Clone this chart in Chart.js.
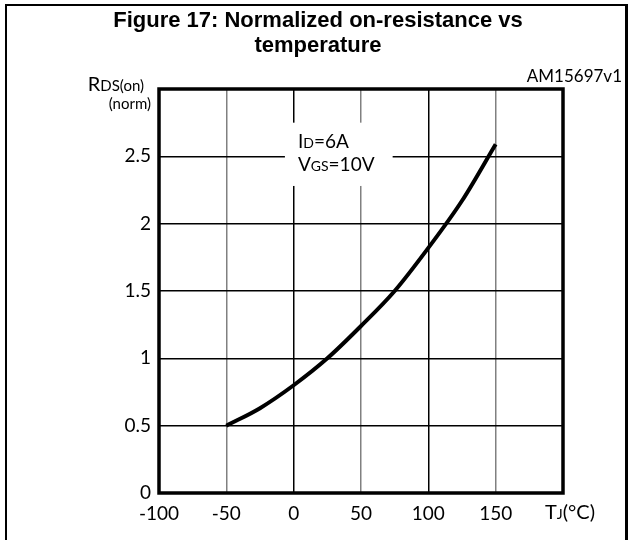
<!DOCTYPE html>
<html>
<head>
<meta charset="utf-8">
<script src="https://cdn.jsdelivr.net/npm/chart.js@4.4.0/dist/chart.umd.min.js"></script>
<style>
html,body{margin:0;padding:0;background:#fff;}
#wrap{width:630px;height:540px;position:relative;}
</style>
</head>
<body>
<div id="wrap"><canvas id="c" width="630" height="540"></canvas></div>
<script>
const titleLines = ["Figure 17: Normalized on-resistance vs", "temperature"];
const temperature = [-50, -25, 0, 25, 50, 75, 100, 125, 150];
const rdsNorm = [0.5, 0.63, 0.8, 1.0, 1.24, 1.5, 1.82, 2.17, 2.59];
const xTicks = [-100, -50, 0, 50, 100, 150, 200];
const yTicks = [0, 0.5, 1, 1.5, 2, 2.5, 3];
const grayX = [-50, 50, 150];

const FONT = "Lato, 'Open Sans', sans-serif";

function drawSub(ctx, x, y, parts) {
  let cx = x;
  for (const [t, s] of parts) {
    ctx.font = s + "px " + FONT;
    ctx.fillText(t, cx, y);
    cx += ctx.measureText(t).width;
  }
  return cx;
}
function measureSub(ctx, parts) {
  let w = 0;
  for (const [t, s] of parts) { ctx.font = s + "px " + FONT; w += ctx.measureText(t).width; }
  return w;
}

const decor = {
  id: 'decor',
  afterDraw(chart) {
    const ctx = chart.ctx;
    const a = chart.chartArea;
    const xs = chart.scales.x, ys = chart.scales.y;
    ctx.save();
    // outer frame (no bottom edge visible)
    ctx.strokeStyle = '#000';
    ctx.lineWidth = 2;
    ctx.beginPath();
    ctx.moveTo(6, 545); ctx.lineTo(6, 5); ctx.lineTo(626, 5);
    ctx.stroke();
    ctx.lineWidth = 3;
    ctx.beginPath();
    ctx.moveTo(626.5, 4); ctx.lineTo(626.5, 545);
    ctx.stroke();
    // plot frame
    ctx.lineWidth = 3.5;
    ctx.strokeRect(a.left, a.top, a.right - a.left, a.bottom - a.top);
    // title
    ctx.fillStyle = '#000';
    ctx.textAlign = 'center';
    ctx.textBaseline = 'alphabetic';
    ctx.font = "bold 22px 'Liberation Sans', Arial, sans-serif";
    ctx.fillText(titleLines[0], 318, 27);
    ctx.fillText(titleLines[1], 318, 52);
    // id
    ctx.textAlign = 'right';
    ctx.font = "17px " + FONT;
    ctx.fillText("AM15697v1", 622, 82);
    // y title
    const yt = [["R", 20], ["DS(on)", 15]];
    const yw = measureSub(ctx, yt);
    ctx.textAlign = 'left';
    drawSub(ctx, 144 - yw, 91, yt);
    ctx.textAlign = 'right';
    ctx.font = "15px " + FONT;
    ctx.fillText("(norm)", 151, 109);
    ctx.textAlign = 'left';
    // x title
    const xt = [["T", 20], ["J", 14], ["(°C)", 20]];
    const xw = measureSub(ctx, xt);
    drawSub(ctx, xs.getPixelForValue(200) + 7 - xw / 2, 519, xt);
    // annotation box
    const bx = xs.getPixelForValue(-6.5), bx2 = xs.getPixelForValue(73.5);
    const by = ys.getPixelForValue(2.75), by2 = ys.getPixelForValue(2.28);
    ctx.fillStyle = '#fff';
    ctx.fillRect(bx, by, bx2 - bx, by2 - by);
    ctx.fillStyle = '#000';
    drawSub(ctx, bx + 13, by + 25, [["I", 19], ["D", 14], ["=6A", 19]]);
    drawSub(ctx, bx + 13, by + 48, [["V", 19], ["GS", 14], ["=10V", 19]]);
    ctx.restore();
  }
};

new Chart(document.getElementById('c'), {
  type: 'line',
  data: {
    datasets: [{
      data: temperature.map((t, i) => ({x: t, y: rdsNorm[i]})),
      borderColor: '#000',
      borderWidth: 4,
      pointRadius: 0,
      cubicInterpolationMode: 'monotone',
      fill: false
    }]
  },
  options: {
    responsive: false,
    animation: false,
    layout: {padding: {top: 89, right: 67, left: 0, bottom: 0}},
    plugins: {legend: {display: false}, tooltip: {enabled: false}, title: {display: false}},
    scales: {
      x: {
        type: 'linear', min: -100, max: 200,
        afterBuildTicks: s => { s.ticks = xTicks.map(v => ({value: v})); },
        afterFit: s => { s.height = 47; },
        border: {display: false},
        grid: {
          drawTicks: false,
          lineWidth: 1.5,
          color: c => grayX.includes(c.tick && c.tick.value) ? '#808080' : '#000'
        },
        ticks: {
          padding: 9,
          color: '#000',
          font: {family: FONT, size: 19},
          callback: v => v === 200 ? '' : String(v),
          maxRotation: 0
        }
      },
      y: {
        type: 'linear', min: 0, max: 3,
        afterBuildTicks: s => { s.ticks = yTicks.map(v => ({value: v})); },
        afterFit: s => { s.width = 159; },
        border: {display: false},
        grid: {drawTicks: false, lineWidth: 1.5, color: '#000'},
        ticks: {
          padding: 8,
          color: '#000',
          font: {family: FONT, size: 19},
          callback: v => v === 3 ? '' : String(v)
        }
      }
    }
  },
  plugins: [decor]
});
</script>
</body>
</html>
